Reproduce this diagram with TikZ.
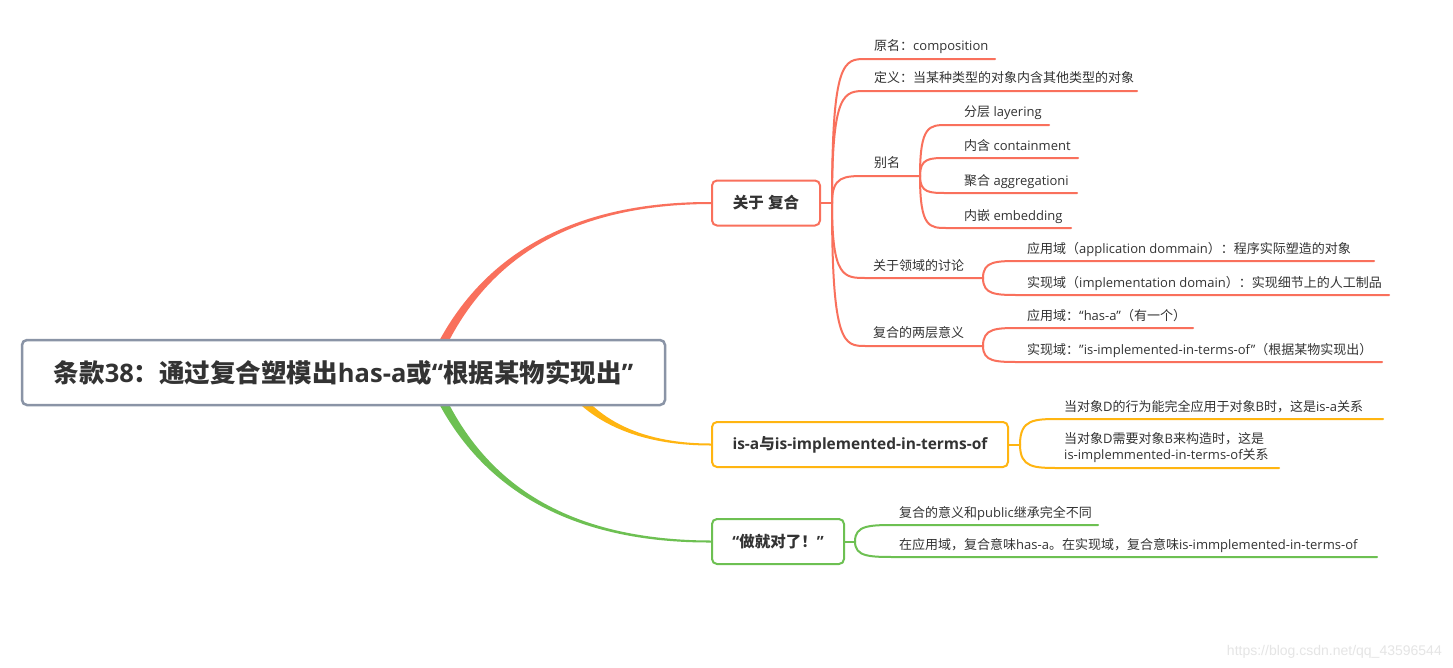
\documentclass[tikz,border=0pt]{standalone}
\usepackage{fontspec}
\setmainfont{Open Sans}
\newfontfamily\cjkfont{Noto Sans CJK SC}
\newfontfamily\wmfont{Liberation Sans}
\usetikzlibrary{calc}
\XeTeXinterchartokenstate=1
\newXeTeXintercharclass\CJKcls
\makeatletter
\newcommand\mysetclass[2]{\count@=#1\relax\loop\XeTeXcharclass\count@=\CJKcls\relax\ifnum\count@<#2\relax\advance\count@\@ne\repeat}
\mysetclass{"4E00}{"9FFF}
\mysetclass{"3000}{"303F}
\mysetclass{"FF00}{"FFEF}
\makeatother
\XeTeXinterchartoks 0 \CJKcls = {\cjkfont}
\XeTeXinterchartoks 4095 \CJKcls = {\cjkfont}
\XeTeXinterchartoks \CJKcls 0 = {\rmfamily}
\XeTeXinterchartoks \CJKcls 4095 = {\rmfamily}
\definecolor{cred}{RGB}{249,112,92}
\definecolor{cyel}{RGB}{255,181,17}
\definecolor{cgrn}{RGB}{109,192,82}
\definecolor{cgray}{RGB}{138,148,166}
\definecolor{ctxt}{RGB}{51,51,51}
\pgfdeclarelayer{bg}
\pgfsetlayers{bg,main}
\tikzset{
  rootbox/.style={draw=cgray, line width=2.5pt, rounded corners=5pt, fill=white,
    minimum width=643pt, minimum height=65pt, text=ctxt,
    font=\bfseries\fontsize{25.5}{29}\selectfont},
  mainbox/.style={line width=2pt, rounded corners=5pt, fill=white,
    minimum height=45pt, text=ctxt, font=\bfseries\fontsize{15.5}{18}\selectfont},
  leaf/.style={anchor=base west, inner sep=0pt, text=ctxt, font=\fontsize{13}{16}\selectfont},
  br/.style={line width=2pt, line cap=round},
}
\newcommand\mmbr[4]{\draw[br,#1] (#2) .. controls (#2 |- #3) and ($(#2 |- #3)!0.35!(#3)$) .. (#3) -- (#4);}
\begin{document}
\begin{tikzpicture}[x=1pt,y=-1pt]
\useasboundingbox (0,0) rectangle (1453,667);
% main nodes
\node[rootbox] (root) at (343.5,372.5) {条款38：通过复合塑模出has-a或“根据某物实现出”};
\node[mainbox,draw=cred,minimum width=108pt] (c1) at (766,203) {关于 复合};
\node[mainbox,draw=cyel,minimum width=296pt] (c2) at (860,444.5) {is-a与is-implemented-in-terms-of};
\node[mainbox,draw=cgrn,minimum width=132pt] (c3) at (778,541.5) {“做就对了！”};
% tapered main branches
\begin{pgfonlayer}{bg}
\fill[white] (0,0) rectangle (1453,667);
\fill[cred] ($(root.center)+(71.7,26)$) .. controls (456.2,266.8) and (557.3,201.5) .. ($(c1.west)+(0,-1)$)
  -- ($(c1.west)+(0,1)$) .. controls (557.3,204.5) and (463.8,269.2) .. ($(root.center)+(81.3,29)$) -- cycle;
\fill[cgrn] ($(root.center)+(71.7,-26)$) .. controls (456.2,478.2) and (557.3,543) .. ($(c3.west)+(0,1)$)
  -- ($(c3.west)+(0,-1)$) .. controls (557.3,540) and (463.8,475.8) .. ($(root.center)+(81.3,-29)$) -- cycle;
\fill[cyel] ($(root.center)+(220.85,-2.95)$) .. controls (590.2,417.3) and (637.3,443.5) .. ($(c2.west)+(0,-1)$)
  -- ($(c2.west)+(0,1)$) .. controls (637.3,445.5) and (583.2,421.3) .. ($(root.center)+(212.15,1.95)$) -- cycle;
\end{pgfonlayer}
% red subtree
\coordinate (rj) at (832,203);
\coordinate (r1s) at (866,59);   \coordinate (r1e) at (995,59);
\coordinate (r2s) at (866,91);   \coordinate (r2e) at (1137,91);
\coordinate (r3s) at (866,176);  \coordinate (r3j) at (920,176);
\coordinate (r3as) at (947,125); \coordinate (r3ae) at (1049,125);
\coordinate (r3bs) at (947,158); \coordinate (r3be) at (1078,158);
\coordinate (r3cs) at (947,193); \coordinate (r3ce) at (1077,193);
\coordinate (r3ds) at (947,228); \coordinate (r3de) at (1071,228);
\coordinate (r4s) at (866,278);  \coordinate (r4j) at (983,278);
\coordinate (r4as) at (1020,261); \coordinate (r4ae) at (1374,261);
\coordinate (r4bs) at (1020,295); \coordinate (r4be) at (1389,295);
\coordinate (r5s) at (866,346);  \coordinate (r5j) at (983,346);
\coordinate (r5as) at (1020,328); \coordinate (r5ae) at (1193,328);
\coordinate (r5bs) at (1020,362); \coordinate (r5be) at (1382,362);
\draw[br,cred] (c1.east) -- (rj);
\mmbr{cred}{rj}{r1s}{r1e}
\mmbr{cred}{rj}{r2s}{r2e}
\mmbr{cred}{rj}{r3s}{r3j}
\mmbr{cred}{r3j}{r3as}{r3ae}
\mmbr{cred}{r3j}{r3bs}{r3be}
\mmbr{cred}{r3j}{r3cs}{r3ce}
\mmbr{cred}{r3j}{r3ds}{r3de}
\mmbr{cred}{rj}{r4s}{r4j}
\mmbr{cred}{r4j}{r4as}{r4ae}
\mmbr{cred}{r4j}{r4bs}{r4be}
\mmbr{cred}{rj}{r5s}{r5j}
\mmbr{cred}{r5j}{r5as}{r5ae}
\mmbr{cred}{r5j}{r5bs}{r5be}
\node[leaf] (t1) at (874,50) {原名：composition};
\node[leaf] (t2) at (874,82) {定义：当某种类型的对象内含其他类型的对象};
\node[leaf] (t3) at (874,167) {别名};
\node[leaf] (t3a) at (964,116) {分层 layering};
\node[leaf] (t3b) at (964,150) {内含 containment};
\node[leaf] (t3c) at (964,185) {聚合 aggregationi};
\node[leaf] (t3d) at (964,220) {内嵌 embedding};
\node[leaf] (t4) at (873,270) {关于领域的讨论};
\node[leaf] (t4a) at (1027,253) {应用域（application dommain）：程序实际塑造的对象};
\node[leaf] (t4b) at (1027,287) {实现域（implementation domain）：实现细节上的人工制品};
\node[leaf] (t5) at (873,337) {复合的两层意义};
\node[leaf] (t5a) at (1027,320) {应用域：“has-a”（有一个）};
\node[leaf] (t5b) at (1027,354) {实现域："is-implemented-in-terms-of"（根据某物实现出）};
% yellow subtree
\coordinate (yj) at (1020,444.5);
\coordinate (y1s) at (1060,419); \coordinate (y1e) at (1383,419);
\coordinate (y2s) at (1060,468); \coordinate (y2e) at (1279,468);
\draw[br,cyel] (c2.east) -- (yj);
\mmbr{cyel}{yj}{y1s}{y1e}
\mmbr{cyel}{yj}{y2s}{y2e}
\node[leaf] (ty1) at (1064,411) {当对象D的行为能完全应用于对象B时，这是is-a关系};
\node[leaf,anchor=west,align=left] (ty2) at (1064,448) {当对象D需要对象B来构造时，这是\\is-implemmented-in-terms-of关系};
% green subtree
\coordinate (gj) at (855,541.5);
\coordinate (g1s) at (897,525); \coordinate (g1e) at (1098,525);
\coordinate (g2s) at (897,557); \coordinate (g2e) at (1377,557);
\draw[br,cgrn] (c3.east) -- (gj);
\mmbr{cgrn}{gj}{g1s}{g1e}
\mmbr{cgrn}{gj}{g2s}{g2e}
\node[leaf] (tg1) at (899,517) {复合的意义和public继承完全不同};
\node[leaf] (tg2) at (899,549) {在应用域，复合意味has-a。在实现域，复合意味is-immplemented-in-terms-of};
% watermark
\node[anchor=base east, inner sep=0pt, text=black!10, font=\wmfont\fontsize{14}{16}\selectfont] (wm) at (1442,655) {https://blog.csdn.net/qq\_43596544};
\end{tikzpicture}
\end{document}
